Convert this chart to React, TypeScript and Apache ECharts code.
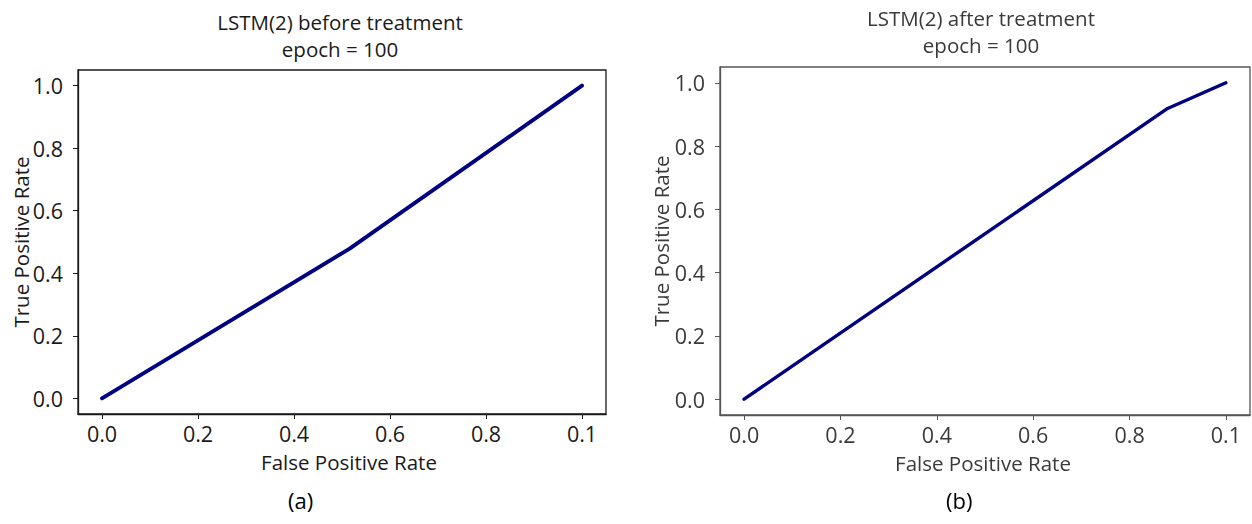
import React, { useEffect, useRef } from "react";
import * as echarts from "echarts";

// Tick positions shared by both ROC panels
const tickValues = [0, 0.2, 0.4, 0.6, 0.8, 1.0];
const xTickLabels = ["0.0", "0.2", "0.4", "0.6", "0.8", "0.1"];
const yTickLabels = ["0.0", "0.2", "0.4", "0.6", "0.8", "1.0"];

// ROC curve before treatment
const beforeFpr = [0, 0.516, 1];
const beforeTpr = [0, 0.479, 1];

// ROC curve after treatment
const afterFpr = [0, 0.879, 1];
const afterTpr = [0, 0.919, 1];

const FONT = "'Open Sans', 'Noto Sans', sans-serif";

type PanelCfg = {
  title: string;
  caption: string;
  fpr: number[];
  tpr: number[];
  grid: { left: number; top: number; width: number; height: number };
  textColor: string;
  frameColor: string;
  lineWidth: number;
  titleTop: number;
  titleShift: number;
  xNamePad: number[];
  yNameGap: number;
  captionX: number;
};

function labelFor(list: string[]) {
  return (v: number) => {
    const i = tickValues.findIndex((t) => Math.abs(t - v) < 1e-6);
    return i >= 0 ? list[i] : "";
  };
}

function buildOption(cfg: PanelCfg): echarts.EChartsOption {
  const g = cfg.grid;
  const centerX = g.left + g.width / 2 + cfg.titleShift;
  return {
    animation: false,
    backgroundColor: "#ffffff",
    textStyle: { fontFamily: FONT },
    title: {
      text: cfg.title + "\nepoch = 100",
      left: centerX,
      textAlign: "center",
      top: cfg.titleTop,
      padding: 0,
      textStyle: {
        fontFamily: FONT,
        fontSize: 20.5,
        fontWeight: "normal",
        color: cfg.textColor,
        lineHeight: 27,
      },
    },
    grid: {
      left: g.left,
      top: g.top,
      width: g.width,
      height: g.height,
      containLabel: false,
      outerBoundsMode: "none",
      show: true,
      borderColor: cfg.frameColor,
      borderWidth: 1.3,
      backgroundColor: "transparent",
    } as any,
    xAxis: {
      type: "value",
      min: -0.05,
      max: 1.05,
      name: "False Positive Rate",
      nameLocation: "middle",
      nameGap: 37,
      nameMoveOverlap: false,
      nameTextStyle: { fontFamily: FONT, fontSize: 20.5, color: cfg.textColor, padding: cfg.xNamePad },
      axisLine: { show: true, onZero: false, lineStyle: { color: cfg.frameColor, width: 1.3 } },
      axisTick: {
        show: true,
        length: 5,
        customValues: tickValues,
        lineStyle: { color: cfg.frameColor, width: 1 },
      },
      axisLabel: {
        customValues: tickValues,
        formatter: labelFor(xTickLabels),
        fontFamily: FONT,
        fontSize: 21.5,
        color: cfg.textColor,
        margin: 8,
      },
      splitLine: { show: false },
    } as any,
    yAxis: {
      type: "value",
      min: -0.05,
      max: 1.05,
      name: "True Positive Rate",
      nameLocation: "middle",
      nameGap: cfg.yNameGap,
      nameMoveOverlap: false,
      nameTextStyle: { fontFamily: FONT, fontSize: 20.5, color: cfg.textColor },
      axisLine: { show: true, onZero: false, lineStyle: { color: cfg.frameColor, width: 1.3 } },
      axisTick: {
        show: true,
        length: 5,
        customValues: tickValues,
        lineStyle: { color: cfg.frameColor, width: 1 },
      },
      axisLabel: {
        customValues: tickValues,
        formatter: labelFor(yTickLabels),
        fontFamily: FONT,
        fontSize: 21.5,
        color: cfg.textColor,
        margin: 15,
      },
      splitLine: { show: false },
    } as any,
    series: [
      {
        type: "line",
        data: cfg.fpr.map((x, i) => [x, cfg.tpr[i]]),
        showSymbol: false,
        symbol: "none",
        lineStyle: { color: "#000080", width: cfg.lineWidth, cap: "round", join: "round" },
        silent: true,
      },
    ],
    graphic: [
      {
        type: "text",
        left: cfg.captionX,
        top: 489,
        style: {
          text: cfg.caption,
          fontFamily: FONT,
          fontSize: 22,
          fill: "#000000",
          textAlign: "center",
        },
      },
    ],
  };
}

const leftPanel: PanelCfg = {
  title: "LSTM(2) before treatment",
  caption: "(a)",
  fpr: beforeFpr,
  tpr: beforeTpr,
  grid: { left: 78, top: 70, width: 528, height: 344 },
  textColor: "#1a1a1a",
  frameColor: "#1a1a1a",
  lineWidth: 3.9,
  titleTop: 8,
  titleShift: -2,
  xNamePad: [0, 0, 0, 14],
  yNameGap: 47,
  captionX: 288,
};

const rightPanel: PanelCfg = {
  title: "LSTM(2) after treatment",
  caption: "(b)",
  fpr: afterFpr,
  tpr: afterTpr,
  grid: { left: 94, top: 67, width: 530, height: 348 },
  textColor: "#3a3a3a",
  frameColor: "#555555",
  lineWidth: 3.4,
  titleTop: 4,
  titleShift: -4,
  xNamePad: [0, 4, 0, 0],
  yNameGap: 49,
  captionX: 320,
};

function Panel({ cfg, left, blur }: { cfg: PanelCfg; left: number; blur: number }) {
  const ref = useRef<HTMLDivElement>(null);
  useEffect(() => {
    if (!ref.current) return;
    const chart = echarts.init(ref.current, undefined, { renderer: "svg" });
    chart.setOption(buildOption(cfg));
    return () => chart.dispose();
  }, [cfg]);
  return (
    <div
      ref={ref}
      style={{
        position: "absolute",
        left,
        top: 0,
        width: 626,
        height: 524,
        filter: blur > 0 ? `blur(${blur}px)` : undefined,
      }}
    />
  );
}

export default function App() {
  return (
    <div
      style={{
        position: "absolute",
        left: 0,
        top: 0,
        width: 1252,
        height: 524,
        background: "#ffffff",
        overflow: "hidden",
      }}
    >
      <Panel cfg={leftPanel} left={0} blur={0} />
      <Panel cfg={rightPanel} left={626} blur={0.45} />
    </div>
  );
}
